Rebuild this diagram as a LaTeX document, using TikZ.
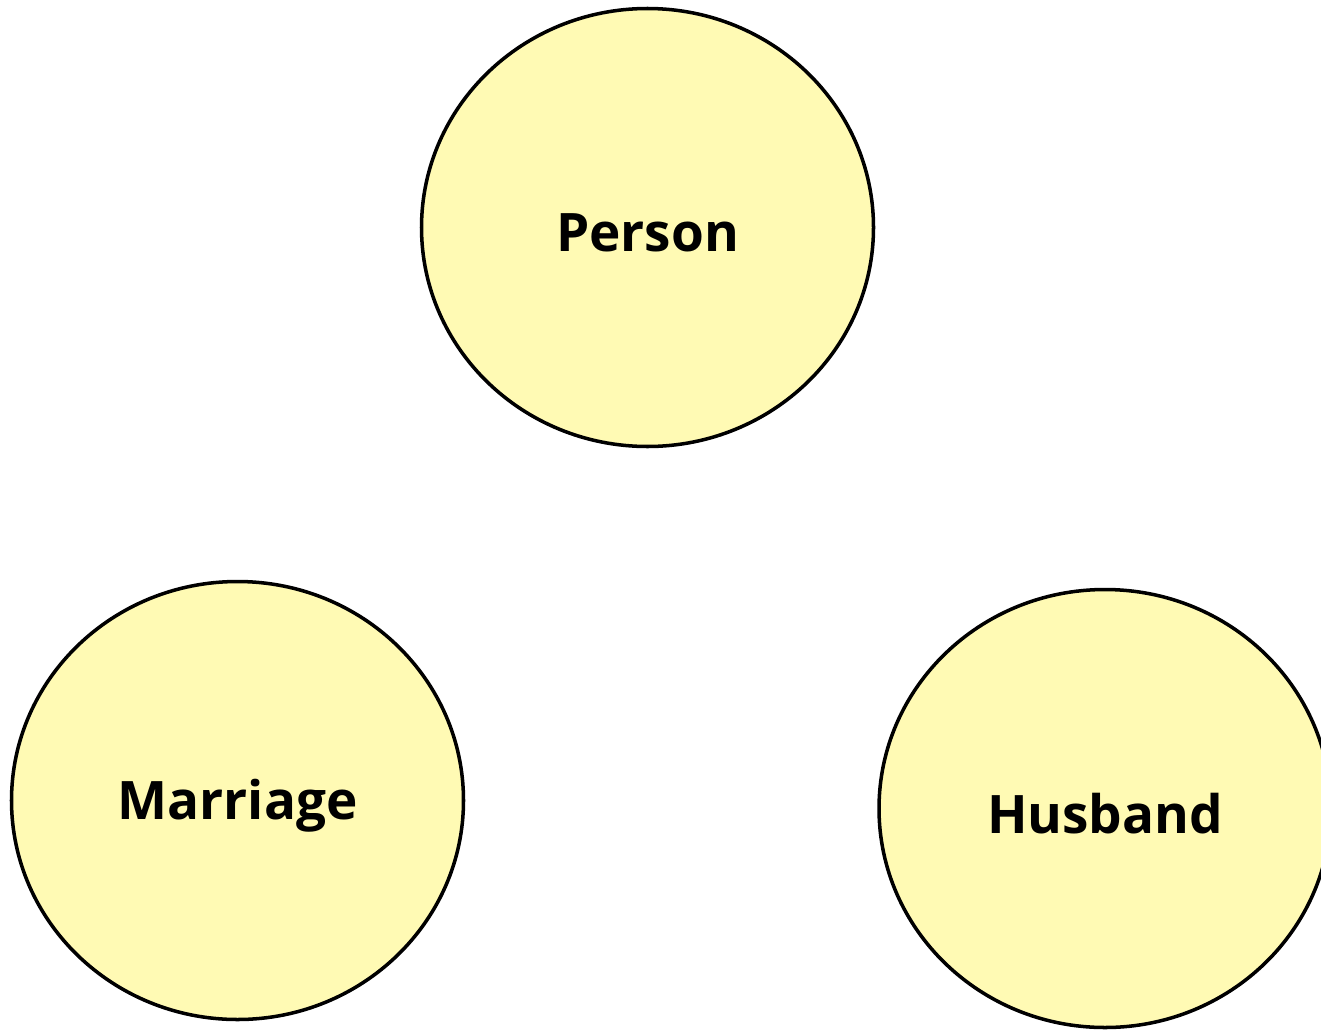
\documentclass[tikz,border=0pt]{standalone}
\usepackage{fontspec}
\setmainfont{Open Sans}
\usepackage{tikz}
\usetikzlibrary{shapes.geometric}
\definecolor{conceptfill}{RGB}{255,250,180}

\begin{document}
\begin{tikzpicture}[
every node/.style={font=\fontsize{30.2}{34}\selectfont\bfseries},
concept/.style={ellipse, draw=black, line width=2pt, fill=conceptfill,
	minimum width=9.04cm, minimum height=8.76cm, inner sep=0pt,
	text depth=0pt, yshift=0pt},
label text/.style={yshift=-0.1cm}]
\useasboundingbox (0,0) rectangle (26.42,-20.58);

%the three concepts
\node[concept](person) at (12.95,-4.55) {};
\node[concept](marriage) at (4.75,-16.01) {};
\node[concept](husband) at (22.1,-16.17) {};

%their names
\node[label text](personname) at (person) {Person};
\node[label text](marriagename) at (marriage) {Marriage};
\node[label text](husbandname) at (husband) {Husband};
\end{tikzpicture}
\end{document}
